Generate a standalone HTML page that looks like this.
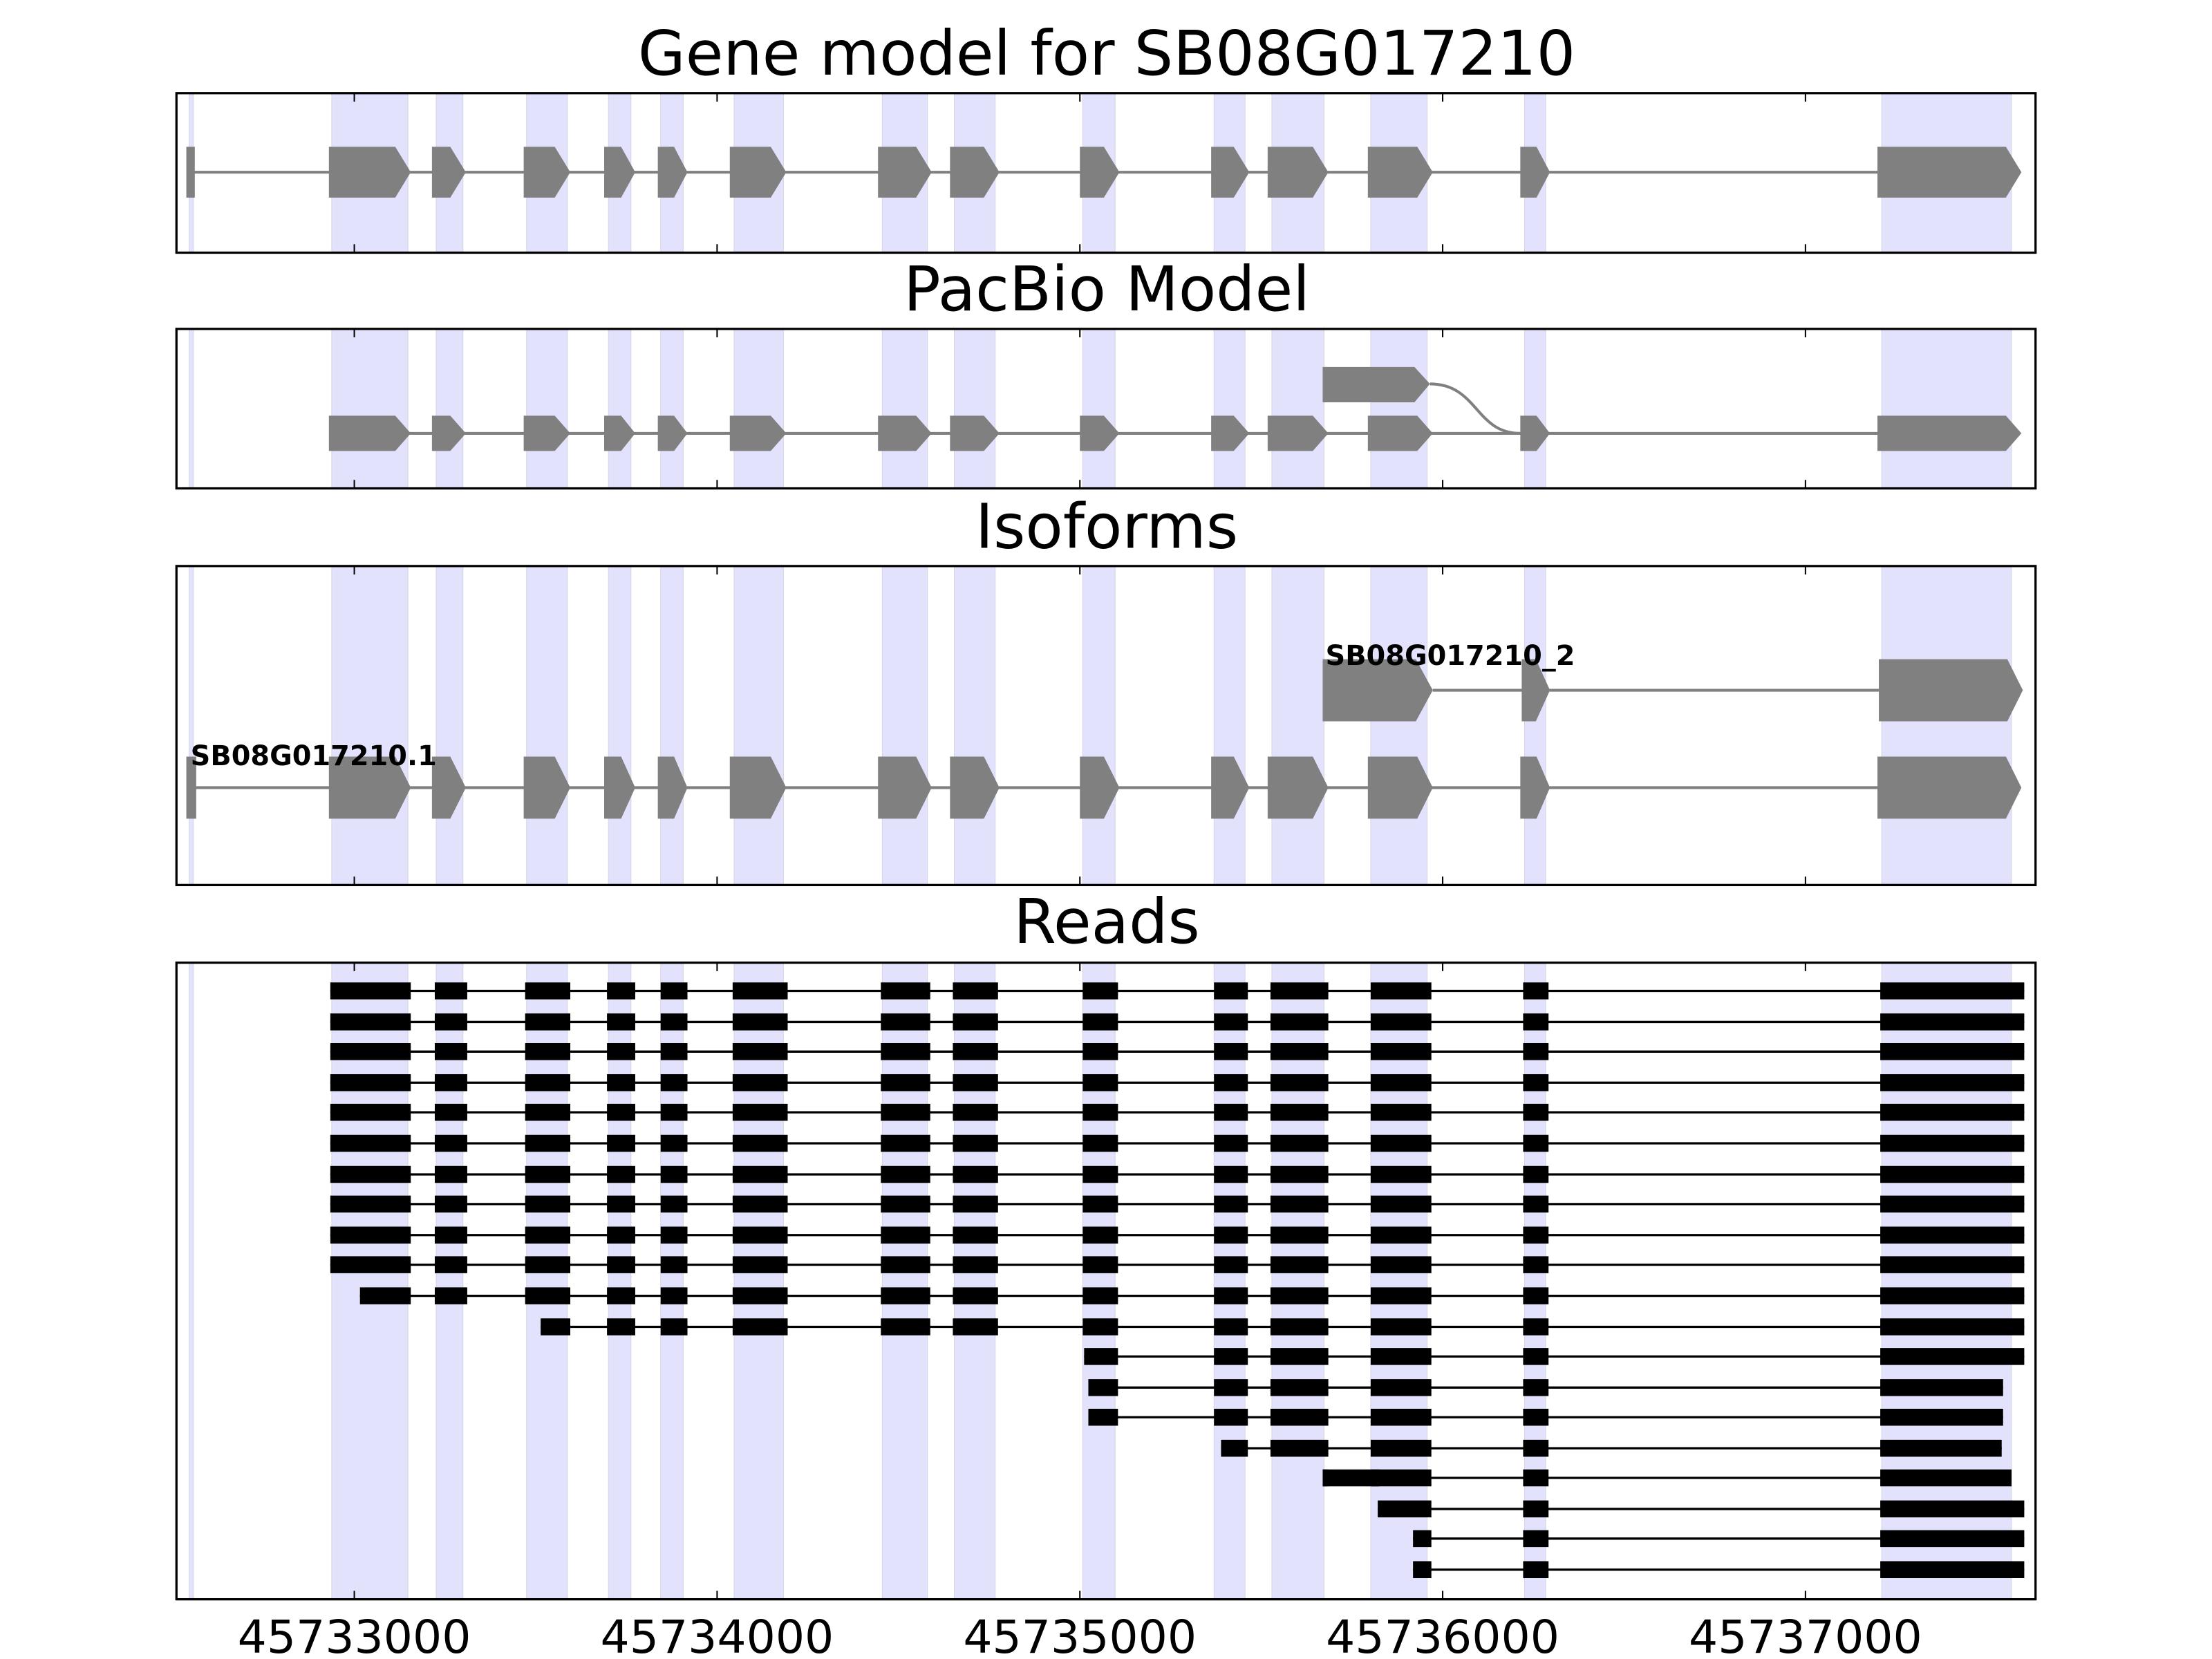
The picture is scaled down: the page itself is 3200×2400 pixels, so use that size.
<!DOCTYPE html>
<html><head><meta charset="utf-8"><style>html,body{margin:0;padding:0;background:#fff}svg{display:block}</style></head>
<body>
<svg width="3200" height="2400" viewBox="0 0 1567 1175.3" preserveAspectRatio="none" xmlns="http://www.w3.org/2000/svg" xmlns:xlink="http://www.w3.org/1999/xlink" font-family="'DejaVu Sans','Liberation Sans',sans-serif">
<defs>
<g id="bands" fill="#e2e2fc" stroke="#d4d4e6" stroke-width="1">
<rect x="134" y="0" width="3" height="1" vector-effect="non-scaling-stroke"/>
<rect x="235" y="0" width="54" height="1" vector-effect="non-scaling-stroke"/>
<rect x="309" y="0" width="19" height="1" vector-effect="non-scaling-stroke"/>
<rect x="373" y="0" width="29" height="1" vector-effect="non-scaling-stroke"/>
<rect x="431" y="0" width="16" height="1" vector-effect="non-scaling-stroke"/>
<rect x="468" y="0" width="16" height="1" vector-effect="non-scaling-stroke"/>
<rect x="520" y="0" width="35" height="1" vector-effect="non-scaling-stroke"/>
<rect x="625" y="0" width="32" height="1" vector-effect="non-scaling-stroke"/>
<rect x="676" y="0" width="29" height="1" vector-effect="non-scaling-stroke"/>
<rect x="767" y="0" width="23" height="1" vector-effect="non-scaling-stroke"/>
<rect x="860" y="0" width="22" height="1" vector-effect="non-scaling-stroke"/>
<rect x="901" y="0" width="37" height="1" vector-effect="non-scaling-stroke"/>
<rect x="971" y="0" width="40" height="1" vector-effect="non-scaling-stroke"/>
<rect x="1080" y="0" width="15" height="1" vector-effect="non-scaling-stroke"/>
<rect x="1333" y="0" width="92" height="1" vector-effect="non-scaling-stroke"/>
</g>
<path id="gexons" fill="#808080" d="M233,-1H280L291,0L280,1H233Z M306,-1H319L330,0L319,1H306Z M371,-1H393L404,0L393,1H371Z M428,-1H440L450,0L440,1H428Z M466,-1H477.5L487,0L477.5,1H466Z M517,-1H546L557,0L546,1H517Z M622,-1H649L660,0L649,1H622Z M673,-1H697L708,0L697,1H673Z M765,-1H782L793,0L782,1H765Z M858,-1H874L885,0L874,1H858Z M898,-1H930L941,0L930,1H898Z M969,-1H1004L1015,0L1004,1H969Z M1077,-1H1088.5L1098,0L1088.5,1H1077Z M1330,-1H1421L1432,0L1421,1H1330Z"/>
<g id="full">
<line x1="234" y1="0" x2="1434" y2="0" stroke="#000" stroke-width="1.6"/>
<path fill="#000" d="M234,-6h57v12h-57z M308,-6h23v12h-23z M372,-6h32v12h-32z M430,-6h20v12h-20z M468,-6h19v12h-19z M519,-6h39v12h-39z M624,-6h35v12h-35z M675,-6h32v12h-32z M767,-6h25v12h-25z M860,-6h24v12h-24z M900,-6h41v12h-41z M971,-6h43v12h-43z M1079,-6h18v12h-18z M1332,-6h102v12h-102z"/>
</g>
<clipPath id="c11"><rect x="255" y="0" width="1300" height="1200"/></clipPath>
<clipPath id="c12"><rect x="383" y="0" width="1300" height="1200"/></clipPath>
<clipPath id="c13"><rect x="768" y="0" width="1300" height="1200"/></clipPath>
<clipPath id="c14"><rect x="771" y="0" width="648" height="1200"/></clipPath>
<clipPath id="c16"><rect x="865" y="0" width="553" height="1200"/></clipPath>
<clipPath id="c17"><rect x="937" y="0" width="488" height="1200"/></clipPath>
<clipPath id="c18"><rect x="976" y="0" width="600" height="1200"/></clipPath>
<clipPath id="c19"><rect x="1001" y="0" width="600" height="1200"/></clipPath>
<g id="ticks" stroke="#000" stroke-width="1">
<path d="M251,0v6M508,0v6M765,0v6M1022,0v6M1279,0v6"/>
</g>
</defs>

<g font-size="43.5" text-anchor="middle" fill="#000">
<text x="784" y="53">Gene model for SB08G017210</text>
<text x="784" y="220">PacBio Model</text>
<text x="784" y="388">Isoforms</text>
<text x="784" y="668">Reads</text>
</g>

<use xlink:href="#bands" transform="translate(0,66) scale(1,113)"/>
<line x1="135" y1="122" x2="1330" y2="122" stroke="#808080" stroke-width="2"/>
<rect x="132" y="104" width="6" height="36" fill="#808080"/>
<use xlink:href="#gexons" transform="translate(0,122) scale(1,18)"/>

<use xlink:href="#bands" transform="translate(0,233) scale(1,113)"/>
<line x1="236" y1="307" x2="1330" y2="307" stroke="#808080" stroke-width="2"/>
<use xlink:href="#gexons" transform="translate(0,307) scale(1,12.5)"/>
<path d="M1013,272 C1047,272 1045,307 1077,307" fill="none" stroke="#808080" stroke-width="2"/>
<path fill="#808080" d="M937,260H1002L1013,272L1002,285H937Z"/>

<use xlink:href="#bands" transform="translate(0,401) scale(1,226)"/>
<line x1="1015" y1="489" x2="1331" y2="489" stroke="#808080" stroke-width="2"/>
<path fill="#808080" d="M937,467H1003L1015,489L1003,511H937Z M1078,467H1088L1098,489L1088,511H1078Z M1331,467H1422L1433,489L1422,511H1331Z"/>
<line x1="135" y1="558" x2="1330" y2="558" stroke="#808080" stroke-width="2"/>
<rect x="132" y="536" width="7" height="44" fill="#808080"/>
<use xlink:href="#gexons" transform="translate(0,558) scale(1,22)"/>
<g font-size="19.5" font-weight="bold" fill="#000">
<text x="939" y="471">SB08G017210_2</text>
<text x="135" y="542">SB08G017210.1</text>
</g>

<use xlink:href="#bands" transform="translate(0,682) scale(1,451)"/>
<use xlink:href="#full" y="702"/>
<use xlink:href="#full" y="724"/>
<use xlink:href="#full" y="745"/>
<use xlink:href="#full" y="767"/>
<use xlink:href="#full" y="788"/>
<use xlink:href="#full" y="810"/>
<use xlink:href="#full" y="832"/>
<use xlink:href="#full" y="853"/>
<use xlink:href="#full" y="875"/>
<use xlink:href="#full" y="896"/>
<g clip-path="url(#c11)"><use xlink:href="#full" y="918"/></g>
<g clip-path="url(#c12)"><use xlink:href="#full" y="940"/></g>
<g clip-path="url(#c13)"><use xlink:href="#full" y="961"/></g>
<g clip-path="url(#c14)"><use xlink:href="#full" y="983"/></g>
<g clip-path="url(#c14)"><use xlink:href="#full" y="1004"/></g>
<g clip-path="url(#c16)"><use xlink:href="#full" y="1026"/></g>
<g clip-path="url(#c17)"><use xlink:href="#full" y="1047"/></g>
<rect x="937" y="1041" width="40" height="12" fill="#000"/>
<g clip-path="url(#c18)"><use xlink:href="#full" y="1069"/></g>
<g clip-path="url(#c19)"><use xlink:href="#full" y="1090"/></g>
<g clip-path="url(#c19)"><use xlink:href="#full" y="1112"/></g>

<g fill="none" stroke="#000" stroke-width="1.6">
<rect x="125" y="66" width="1317" height="113"/>
<rect x="125" y="233" width="1317" height="113"/>
<rect x="125" y="401" width="1317" height="226"/>
<rect x="125" y="682" width="1317" height="451"/>
</g>
<use xlink:href="#ticks" y="66"/><use xlink:href="#ticks" transform="translate(0,179) scale(1,-1)"/>
<use xlink:href="#ticks" y="233"/><use xlink:href="#ticks" transform="translate(0,346) scale(1,-1)"/>
<use xlink:href="#ticks" y="401"/><use xlink:href="#ticks" transform="translate(0,627) scale(1,-1)"/>
<use xlink:href="#ticks" y="682"/><use xlink:href="#ticks" transform="translate(0,1133) scale(1,-1)"/>

<g font-size="32.5" text-anchor="middle" fill="#000">
<text x="251" y="1171">45733000</text>
<text x="508" y="1171">45734000</text>
<text x="765" y="1171">45735000</text>
<text x="1022" y="1171">45736000</text>
<text x="1279" y="1171">45737000</text>
</g>
</svg>
</body></html>
